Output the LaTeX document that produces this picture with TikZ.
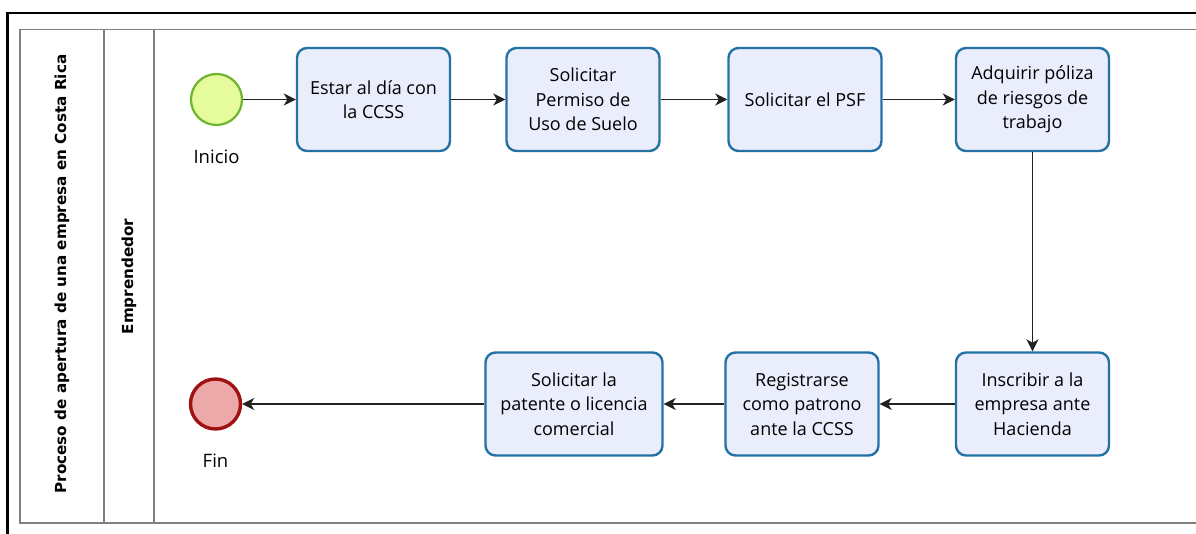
\documentclass[tikz,border=0pt]{standalone}
\usepackage{fontspec}
\setmainfont{Open Sans}
\newfontfamily\lanefont{DejaVu Sans}
\usetikzlibrary{arrows.meta}

\definecolor{taskline}{HTML}{2472A4}
\definecolor{taskfill}{HTML}{EAEEFC}
\definecolor{startline}{HTML}{6CB42C}
\definecolor{startfill}{HTML}{E6FB9C}
\definecolor{endline}{HTML}{A01212}
\definecolor{endfill}{HTML}{EDA8A9}
\definecolor{poolline}{HTML}{808080}
\definecolor{flowline}{HTML}{222222}

\begin{document}
\begin{tikzpicture}[x=1pt,y=-1pt,
  task/.style={draw=taskline, fill=taskfill, rounded corners=10pt, line width=2.4pt,
    minimum width=153pt, minimum height=103pt, align=center, inner sep=2pt,
    font=\fontsize{18}{24.5}\selectfont},
  startev/.style={circle, draw=startline, fill=startfill, line width=2.2pt, minimum size=51pt, inner sep=0pt},
  endev/.style={circle, draw=endline, fill=endfill, line width=3.4pt, minimum size=50pt, inner sep=0pt},
  evlabel/.style={font=\fontsize{18.5}{20}\selectfont, inner sep=0pt},
  lanelabel/.style={rotate=90, font=\lanefont\bfseries\fontsize{15.2}{18}\selectfont, inner sep=0pt},
  flow/.style={draw=flowline, line width=1.7pt, -{Stealth[length=12pt,width=12pt,inset=3.5pt]}},
  pool/.style={draw=poolline, line width=1.6pt}
]
\useasboundingbox (0,0) rectangle (1196,534);
\clip (0,0) rectangle (1196,534);

% outer frame
\draw[line width=2.2pt, black] (7.5,13) rectangle (1230,560);

% pool and lane
\draw[pool] (20,29.5) rectangle (1230,523);
\draw[pool] (104,29.5) -- (104,523);
\draw[pool] (154,29.5) -- (154,523);
\node[lanelabel] (poolname) at (62,274) {Proceso de apertura de una empresa en Costa Rica};
\node[lanelabel] (lanename) at (129,276.5) {Emprendedor};

% events
\node[startev] (start) at (216.5,99.5) {};
\node[evlabel] (startlbl) at (216.5,157) {Inicio};
\node[endev] (end) at (215.5,404) {};
\node[evlabel] (endlbl) at (215.5,461) {Fin};

% tasks
\node[task] (t1) at (373.5,99.5) {Estar al día con\\la CCSS};
\node[task] (t2) at (583,99.5) {Solicitar\\Permiso de\\Uso de Suelo};
\node[task] (t3) at (805,99.5) {Solicitar el PSF};
\node[task] (t4) at (1032.5,99.5) {Adquirir póliza\\de riesgos de\\trabajo};
\node[task] (t5) at (1032.5,404) {Inscribir a la\\empresa ante\\Hacienda};
\node[task] (t6) at (802,404) {Registrarse\\como patrono\\ante la CCSS};
\node[task, minimum width=177pt] (t7) at (574,404) {Solicitar la\\patente o licencia\\comercial};

% sequence flows
\draw[flow] (start) -- (t1);
\draw[flow] (t1) -- (t2);
\draw[flow] (t2) -- (t3);
\draw[flow] (t3) -- (t4);
\draw[flow] (t4) -- (t5);
\draw[flow] (t5) -- (t6);
\draw[flow] (t6) -- (t7);
\draw[flow] (t7) -- (end);
\end{tikzpicture}
\end{document}
